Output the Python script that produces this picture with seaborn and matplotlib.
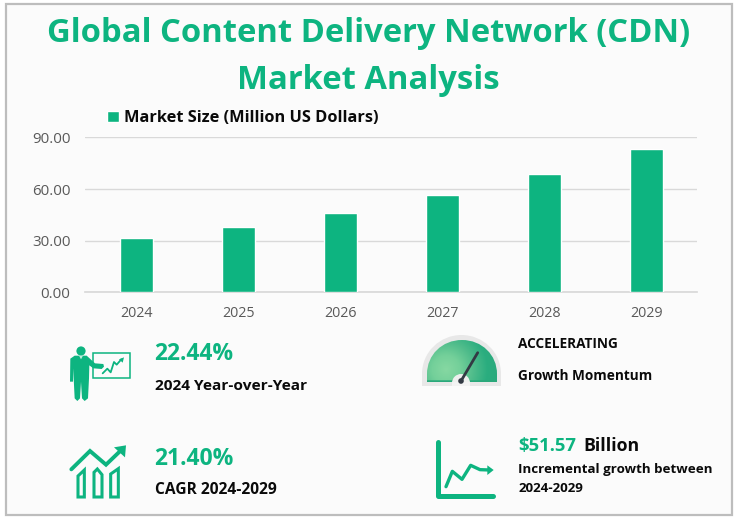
import matplotlib
matplotlib.use("Agg")
import matplotlib.pyplot as plt
import numpy as np
import pandas as pd
import seaborn as sns
from matplotlib.patches import Rectangle, Circle, Polygon, Wedge, PathPatch
from matplotlib.path import Path
from matplotlib.colors import LinearSegmentedColormap

years = ["2024", "2025", "2026", "2027", "2028", "2029"]
market_size = [31.5, 37.9, 46.0, 56.5, 68.7, 83.07]
y_ticks = [0, 30, 60, 90]
series_name = "Market Size (Million US Dollars)"
title_lines = ["Global Content Delivery Network (CDN)", "Market Analysis"]

GREEN = "#0db480"
BG = "#fbfbfb"
W, H = 736, 519

sns.set_theme(style="white")
plt.rcParams["font.family"] = ["Open Sans", "DejaVu Sans"]

fig = plt.figure(figsize=(W / 100, H / 100), dpi=100, facecolor="white")
bgax = fig.add_axes([0, 0, 1, 1], facecolor="none", zorder=0)
bgax.set_xlim(0, W)
bgax.set_ylim(H, 0)
bgax.axis("off")
bgax.add_patch(Rectangle((6, 4.2), 726, 510.3, fc=BG, ec="#bdbdbd", lw=1.6))

ax = fig.add_axes([85.4 / W, 1 - 292.4 / H, 612 / W, 155 / H], facecolor="none", zorder=1)
df = pd.DataFrame({"year": years, "size": market_size})
sns.barplot(data=df, x="year", y="size", color=GREEN, saturation=1, width=0.318, ax=ax, label=series_name, zorder=3)
ax.set_ylim(0, 90)
ax.set_yticks(y_ticks)
ax.set_yticklabels([f"{v:.2f}" for v in y_ticks], fontsize=10.8, color="#595959")
ax.tick_params(axis="x", labelsize=10.3, labelcolor="#595959", length=0, pad=10)
ax.tick_params(axis="y", length=0, pad=10.8)
ax.set_xlabel("")
ax.set_ylabel("")
ax.yaxis.grid(True, color="#d9d9d9", lw=1, zorder=0)
ax.set_axisbelow(True)
for s in ["top", "left", "right"]:
    ax.spines[s].set_visible(False)
ax.spines["bottom"].set_color("#d9d9d9")
leg = ax.legend(loc="lower left", bbox_to_anchor=((107 - 85) / 612, 1.072), frameon=False, handlelength=0.68,
                handleheight=0.68, handletextpad=0.36, borderaxespad=0, borderpad=0,
                prop={"weight": "bold", "size": 11.8})
for t in leg.get_texts():
    t.set_color("#0a0a0a")

ov = fig.add_axes([0, 0, 1, 1], facecolor="none", zorder=2)
ov.set_xlim(0, W)
ov.set_ylim(H, 0)
ov.axis("off")

ov.text(368.5, 34, title_lines[0], color=GREEN, fontsize=23.55, weight="bold", ha="center", va="center")
ov.text(368.5, 80.5, title_lines[1], color=GREEN, fontsize=23.55, weight="bold", ha="center", va="center")


def txt(x, y, s, size, color="#0a0a0a", weight="bold"):
    return ov.text(x, y, s, fontsize=size, color=color, weight=weight, ha="left", va="center")


txt(154, 354, "22.44%", 16.5, GREEN)
txt(155, 386, "2024 Year-over-Year", 11.1)
txt(154, 459, "21.40%", 16.5, GREEN)
txt(155, 490, "CAGR 2024-2029", 11.2)
txt(518.5, 343.5, "ACCELERATING", 9.8)
txt(518.5, 376, "Growth Momentum", 9.8)
txt(518.5, 446, "$51.57", 13.3, GREEN)
txt(583, 446, "Billion", 12.8)
txt(518.5, 469, "Incremental growth between", 9.6)
txt(518.5, 488, "2024-2029", 9.6)


def zm(pts, ox, oy):
    return [(ox + x / 3, oy + y / 3) for x, y in pts]


# presenter icon
ov.add_patch(Circle((81, 351), 4.6, color=GREEN, lw=0))
body = [(31, 56), (44, 47), (80, 47), (105, 70), (130, 72), (132, 80), (125, 87), (100, 85), (88, 76), (87, 115),
        (84, 175), (74, 183), (66, 175), (63, 125), (60, 175), (52, 183), (44, 175), (41, 115), (40, 85), (39, 125),
        (30, 125)]
ov.add_patch(Polygon(zm(body, 60, 340), closed=True, color=GREEN, lw=0))
ov.add_patch(Polygon(zm([(57, 47), (69, 47), (63, 58)], 60, 340), closed=True, color="#bfeedd", lw=0))
ov.add_patch(Rectangle((92.5, 353.3), 37.5, 24.4, fill=False, ec=GREEN, lw=1.1))
ov.plot(*zip(*zm([(128, 100), (142, 86), (152, 97), (162, 66), (170, 74), (184, 58)], 60, 340)), color=GREEN, lw=1.3)
ov.add_patch(Polygon(zm([(192, 52), (177, 58), (188, 68)], 60, 340), closed=True, color=GREEN, lw=0))

# trending bars icon
ZX, ZY = 40, 330
ov.plot(*zip(*zm([(94, 418), (150, 363), (198, 404), (246, 358)], ZX, ZY)), color=GREEN, lw=2.8,
        solid_capstyle="round", solid_joinstyle="miter")
ov.add_patch(Polygon(zm([(222, 352), (258, 346), (255, 382)], ZX, ZY), closed=True, color=GREEN, lw=0))
for shape in ([(114, 501), (114, 438), (133, 420), (133, 501)],
              [(162, 501), (162, 427), (172, 417), (186, 434), (186, 501)],
              [(212, 501), (212, 432), (235, 416), (235, 501)]):
    ov.add_patch(Polygon(zm(shape, ZX, ZY), closed=True, fill=False, ec=GREEN, lw=2.2))

# gauge icon
codes = [Path.MOVETO, Path.LINETO, Path.CURVE4, Path.CURVE4, Path.CURVE4, Path.CURVE4, Path.CURVE4, Path.CURVE4,
         Path.LINETO, Path.CLOSEPOLY]
ov.add_patch(PathPatch(Path([(422, 386), (422, 374), (422, 352), (440, 335), (461.5, 335), (483, 335), (501, 352),
                             (501, 374), (501, 386), (422, 386)], codes), fc="#e8e8e8", ec="none"))
clip = PathPatch(Path([(427, 382), (427, 374), (427, 355), (442, 340), (462, 340), (482, 340), (497, 355),
                       (497, 374), (497, 382), (427, 382)], codes), fc="none", ec="none", transform=ov.transData)
ov.add_patch(clip)
cmap = LinearSegmentedColormap.from_list("g", ["#86d8a2", "#74d09a", "#4fbc8b", "#2aad7f", "#2aa87b"])
gx, gy = np.meshgrid(np.linspace(0, 1, 80), np.linspace(0, 1, 50))
grad = np.clip(np.hypot(gx - 0.27, (gy - 0.7) * 0.6) * 1.25, 0, 1)
grad[gy > 0.96] = 1
img = ov.imshow(grad, extent=(427, 497, 382, 340), cmap=cmap, vmin=0, vmax=1, aspect="auto", zorder=2)
img.set_clip_path(clip)
ov.set_xlim(0, W)
ov.set_ylim(H, 0)
ov.add_patch(Wedge((461, 383), 9, 180, 360, color="#eef0ee", lw=0, zorder=3))
ov.add_patch(Rectangle((452, 382), 18, 4, color="#f3f3f3", lw=0, zorder=3))
ov.add_patch(Circle((461, 381), 2.8, color="#333a44", lw=0, zorder=5))
ov.plot([461, 477.7], [381, 352.7], color="#333a44", lw=2, solid_capstyle="round", zorder=5)

# line chart icon
ov.plot([437.5, 437.5, 493], [441.5, 496, 496], color=GREEN, lw=3.6, solid_capstyle="round", solid_joinstyle="round")
ov.plot(*zip(*zm([(138, 470), (157, 424), (186, 448), (212, 406), (240, 419), (270, 420)], 400, 330)), color=GREEN,
        lw=2.4, solid_capstyle="round")
ov.add_patch(Polygon(zm([(262, 406), (281, 420), (262, 435)], 400, 330), closed=True, color=GREEN, lw=0))

fig.savefig("out.png", dpi=100, facecolor="white")
